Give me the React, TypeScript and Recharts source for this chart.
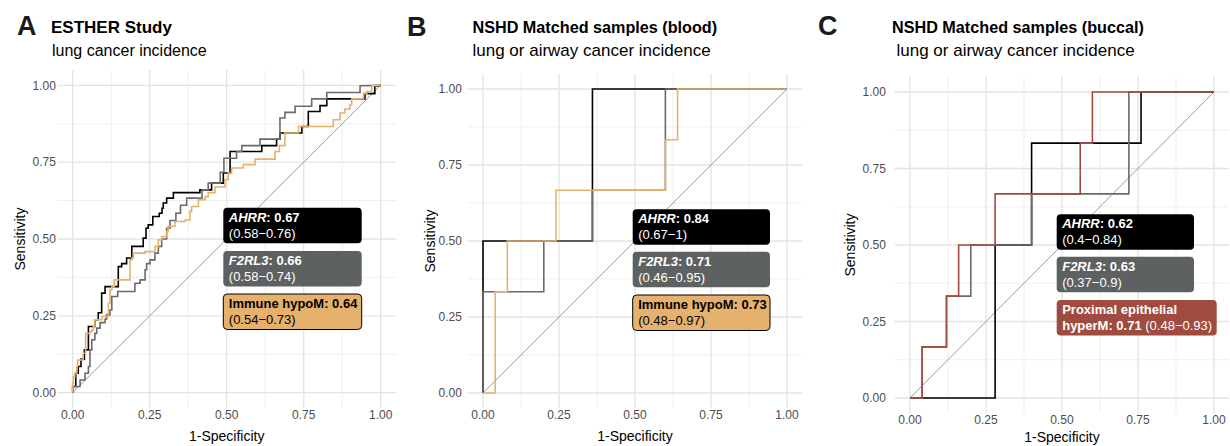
import React from 'react'
import { ComposedChart, Line, XAxis, YAxis, CartesianGrid, ReferenceLine } from 'recharts'

type Pt = [number, number]

const majorTicks = [0, 0.25, 0.5, 0.75, 1]
const minorTicks = [0.125, 0.375, 0.625, 0.875]

// ROC corner points [1-specificity, sensitivity]
const estherAhrr: Pt[] = [
  [0, 0], [0, 0.02], [0.01, 0.02], [0.01, 0.063], [0.018, 0.063], [0.018, 0.085], [0.027, 0.085], [0.027, 0.109],
  [0.038, 0.109], [0.038, 0.139], [0.051, 0.139], [0.051, 0.215], [0.072, 0.215], [0.072, 0.237], [0.083, 0.237],
  [0.083, 0.26], [0.094, 0.26], [0.094, 0.324], [0.105, 0.324], [0.105, 0.345], [0.148, 0.345], [0.148, 0.41],
  [0.159, 0.41], [0.159, 0.42], [0.175, 0.42], [0.175, 0.438], [0.192, 0.438], [0.192, 0.476], [0.229, 0.476],
  [0.229, 0.503], [0.238, 0.503], [0.238, 0.535], [0.245, 0.535], [0.245, 0.546], [0.26, 0.546], [0.26, 0.573],
  [0.281, 0.573], [0.281, 0.584], [0.29, 0.584], [0.29, 0.6], [0.294, 0.6], [0.294, 0.617], [0.305, 0.617],
  [0.305, 0.633], [0.327, 0.633], [0.327, 0.651], [0.413, 0.651], [0.413, 0.66], [0.451, 0.66], [0.451, 0.682],
  [0.489, 0.682], [0.489, 0.715], [0.511, 0.715], [0.511, 0.785], [0.614, 0.785], [0.614, 0.804], [0.662, 0.804],
  [0.662, 0.825], [0.673, 0.825], [0.673, 0.845], [0.744, 0.845], [0.744, 0.866], [0.765, 0.866], [0.765, 0.915],
  [0.803, 0.915], [0.803, 0.934], [0.825, 0.934], [0.825, 0.956], [0.949, 0.956], [0.949, 0.973], [0.981, 0.973],
  [0.981, 0.997], [1, 1],
]
const estherF2rl3: Pt[] = [
  [0, 0], [0, 0.02], [0.024, 0.02], [0.024, 0.041], [0.04, 0.041], [0.04, 0.063], [0.051, 0.063], [0.051, 0.085],
  [0.056, 0.085], [0.056, 0.139], [0.062, 0.139], [0.062, 0.172], [0.072, 0.172], [0.072, 0.193], [0.078, 0.193],
  [0.078, 0.21], [0.089, 0.21], [0.089, 0.228], [0.105, 0.228], [0.105, 0.239], [0.11, 0.239], [0.11, 0.253],
  [0.121, 0.253], [0.121, 0.269], [0.127, 0.269], [0.127, 0.313], [0.146, 0.313], [0.146, 0.329], [0.202, 0.329],
  [0.202, 0.356], [0.219, 0.356], [0.219, 0.367], [0.235, 0.367], [0.235, 0.4], [0.24, 0.4], [0.24, 0.42],
  [0.251, 0.42], [0.251, 0.432], [0.267, 0.432], [0.267, 0.454], [0.278, 0.454], [0.278, 0.476], [0.289, 0.476],
  [0.289, 0.5], [0.305, 0.5], [0.305, 0.535], [0.316, 0.535], [0.316, 0.56], [0.335, 0.56], [0.335, 0.584],
  [0.35, 0.584], [0.35, 0.61], [0.37, 0.61], [0.37, 0.633], [0.42, 0.633], [0.42, 0.66], [0.44, 0.66],
  [0.44, 0.682], [0.479, 0.682], [0.479, 0.717], [0.491, 0.717], [0.491, 0.763], [0.532, 0.763], [0.532, 0.785],
  [0.549, 0.785], [0.549, 0.804], [0.608, 0.804], [0.608, 0.825], [0.673, 0.825], [0.673, 0.894], [0.689, 0.894],
  [0.689, 0.912], [0.722, 0.912], [0.722, 0.932], [0.776, 0.932], [0.776, 0.956], [0.825, 0.956], [0.825, 0.977],
  [0.933, 0.977], [0.933, 0.999], [1, 1],
]
const estherImmune: Pt[] = [
  [0, 0], [0, 0.031], [0.002, 0.031], [0.002, 0.052], [0.007, 0.052], [0.007, 0.063], [0.013, 0.063], [0.013, 0.085],
  [0.016, 0.085], [0.016, 0.106], [0.034, 0.106], [0.034, 0.128], [0.042, 0.128], [0.042, 0.193], [0.056, 0.193],
  [0.056, 0.199], [0.062, 0.199], [0.062, 0.204], [0.067, 0.204], [0.067, 0.215], [0.072, 0.215], [0.072, 0.237],
  [0.096, 0.237], [0.096, 0.248], [0.116, 0.248], [0.116, 0.291], [0.121, 0.291], [0.121, 0.335], [0.127, 0.335],
  [0.127, 0.345], [0.135, 0.345], [0.135, 0.367], [0.186, 0.367], [0.186, 0.432], [0.192, 0.432], [0.192, 0.438],
  [0.197, 0.438], [0.197, 0.454], [0.235, 0.454], [0.235, 0.459], [0.267, 0.459], [0.267, 0.476], [0.278, 0.476],
  [0.278, 0.497], [0.289, 0.497], [0.289, 0.508], [0.305, 0.508], [0.305, 0.524], [0.31, 0.524], [0.31, 0.541],
  [0.332, 0.541], [0.332, 0.557], [0.365, 0.557], [0.365, 0.562], [0.381, 0.562], [0.381, 0.59], [0.386, 0.59],
  [0.386, 0.606], [0.408, 0.606], [0.408, 0.628], [0.43, 0.628], [0.43, 0.638], [0.44, 0.638], [0.44, 0.651],
  [0.462, 0.651], [0.462, 0.669], [0.494, 0.669], [0.494, 0.693], [0.505, 0.693], [0.505, 0.715], [0.516, 0.715],
  [0.516, 0.731], [0.554, 0.731], [0.554, 0.742], [0.592, 0.742], [0.592, 0.76], [0.657, 0.76], [0.657, 0.785],
  [0.671, 0.785], [0.671, 0.804], [0.689, 0.804], [0.689, 0.845], [0.733, 0.845], [0.733, 0.866], [0.846, 0.866],
  [0.846, 0.888], [0.868, 0.888], [0.868, 0.91], [0.884, 0.91], [0.884, 0.923], [0.9, 0.923], [0.9, 0.937],
  [0.906, 0.937], [0.906, 0.956], [0.944, 0.956], [0.944, 0.973], [0.955, 0.973], [0.955, 0.98], [0.971, 0.98],
  [0.971, 0.999], [1, 1],
]

const bloodAhrr: Pt[] = [[0, 0], [0, 0.5], [0.36, 0.5], [0.36, 1], [1, 1]]
const bloodF2rl3: Pt[] = [
  [0, 0], [0, 0.333], [0.2, 0.333], [0.2, 0.5], [0.36, 0.5], [0.36, 0.667], [0.6, 0.667], [0.6, 1], [1, 1],
]
const bloodImmune: Pt[] = [
  [0, 0], [0.04, 0], [0.04, 0.333], [0.08, 0.333], [0.08, 0.5], [0.24, 0.5], [0.24, 0.667], [0.6, 0.667],
  [0.6, 0.833], [0.64, 0.833], [0.64, 1], [1, 1],
]

const buccalAhrr: Pt[] = [
  [0, 0], [0.28, 0], [0.28, 0.5], [0.4, 0.5], [0.4, 0.833], [0.76, 0.833], [0.76, 1], [1, 1],
]
const buccalF2rl3: Pt[] = [
  [0, 0], [0.04, 0], [0.04, 0.167], [0.12, 0.167], [0.12, 0.333], [0.2, 0.333], [0.2, 0.5], [0.4, 0.5],
  [0.4, 0.667], [0.72, 0.667], [0.72, 1], [1, 1],
]
const buccalProximal: Pt[] = [
  [0, 0], [0.04, 0], [0.04, 0.167], [0.12, 0.167], [0.12, 0.333], [0.16, 0.333], [0.16, 0.5], [0.28, 0.5],
  [0.28, 0.667], [0.56, 0.667], [0.56, 0.833], [0.6, 0.833], [0.6, 1], [1, 1],
]

const BLACK = '#000000'
const GREY = '#6a6a6a'
const ORANGE = '#e6b16d'
const RED = '#9f4b3f'
const BOX_GREY = '#5e6161'

const toRows = (pts: Pt[]) => pts.map(([x, y]) => ({ x, y }))

const panels = [
  {
    left: 0, width: 396.1, yw: 57.3, top: 70, xh: 38, ytm: 1.5, xtm: 2,
    series: [
      { name: 'AHRR', pts: estherAhrr, color: BLACK },
      { name: 'F2RL3', pts: estherF2rl3, color: GREY },
      { name: 'Immune hypoM', pts: estherImmune, color: ORANGE },
    ],
  },
  {
    left: 410, width: 392.2, yw: 57.8, top: 73.8, xh: 37.8, ytm: 6, xtm: 2,
    series: [
      { name: 'AHRR', pts: bloodAhrr, color: BLACK },
      { name: 'F2RL3', pts: bloodF2rl3, color: GREY },
      { name: 'Immune hypoM', pts: bloodImmune, color: ORANGE },
    ],
  },
  {
    left: 830, width: 399.2, yw: 64.8, top: 76.7, xh: 32.7, ytm: 9, xtm: 2,
    series: [
      { name: 'AHRR', pts: buccalAhrr, color: BLACK },
      { name: 'F2RL3', pts: buccalF2rl3, color: GREY },
      { name: 'Proximal epithelial hyperM', pts: buccalProximal, color: RED },
    ],
  },
]

const tickStyle = { fontSize: 12, fill: '#4d4d4d', fontFamily: 'Liberation Sans, Arial, sans-serif' }

function RocPanel({ p }: { p: (typeof panels)[number] }) {
  return (
    <div style={{ position: 'absolute', left: p.left, top: 0 }}>
      <ComposedChart width={p.width} height={446} margin={{ top: p.top, right: 0, bottom: 0, left: 0 }}>
        <CartesianGrid stroke="#ebebeb" strokeWidth={0.8} horizontalValues={minorTicks} verticalValues={minorTicks} />
        <CartesianGrid stroke="#e3e3e3" strokeWidth={1.3} horizontalValues={majorTicks} verticalValues={majorTicks} />
        <XAxis
          type="number" dataKey="x" domain={[-0.05, 1.05]} allowDataOverflow ticks={majorTicks}
          tickFormatter={(v: number) => v.toFixed(2)} axisLine={false} tickLine={false} tickSize={0}
          tickMargin={p.xtm} height={p.xh} tick={tickStyle} interval={0}
        />
        <YAxis
          type="number" dataKey="y" domain={[-0.05, 1.05]} allowDataOverflow ticks={majorTicks}
          tickFormatter={(v: number) => v.toFixed(2)} axisLine={false} tickLine={false} tickSize={0}
          tickMargin={p.ytm} width={p.yw} tick={tickStyle} interval={0}
        />
        <ReferenceLine segment={[{ x: 0, y: 0 }, { x: 1, y: 1 }]} stroke="#9a9a9a" strokeWidth={1} />
        {p.series.map((s) => (
          <Line
            key={s.name} data={toRows(s.pts)} dataKey="y" type="linear" stroke={s.color} strokeWidth={1.6}
            dot={false} activeDot={false} isAnimationActive={false}
          />
        ))}
      </ComposedChart>
    </div>
  )
}

type Seg = { t: string; b?: boolean; i?: boolean }
type Box = { x: number; y: number; w: number; fill: string; color: string; border?: boolean; lines: Seg[][] }

const boxes: Box[] = [
  { x: 223.3, y: 207.7, w: 138.4, fill: BLACK, color: '#ffffff', lines: [[{ t: 'AHRR', b: true, i: true }, { t: ': 0.67', b: true }], [{ t: '(0.58\u22120.76)' }]] },
  { x: 223.3, y: 251, w: 138.4, fill: BOX_GREY, color: '#ffffff', lines: [[{ t: 'F2RL3', b: true, i: true }, { t: ': 0.66', b: true }], [{ t: '(0.58\u22120.74)' }]] },
  { x: 223.3, y: 294, w: 138.4, fill: ORANGE, color: '#000000', border: true, lines: [[{ t: 'Immune hypoM: 0.64', b: true }], [{ t: '(0.54\u22120.73)' }]] },
  { x: 632.7, y: 209.3, w: 137.3, fill: BLACK, color: '#ffffff', lines: [[{ t: 'AHRR', b: true, i: true }, { t: ': 0.84', b: true }], [{ t: '(0.67\u22121)' }]] },
  { x: 632.7, y: 251.7, w: 137.3, fill: BOX_GREY, color: '#ffffff', lines: [[{ t: 'F2RL3', b: true, i: true }, { t: ': 0.71', b: true }], [{ t: '(0.46\u22120.95)' }]] },
  { x: 632.7, y: 295, w: 137.3, fill: ORANGE, color: '#000000', border: true, lines: [[{ t: 'Immune hypoM: 0.73', b: true }], [{ t: '(0.48\u22120.97)' }]] },
  { x: 1056.7, y: 214.3, w: 137.3, fill: BLACK, color: '#ffffff', lines: [[{ t: 'AHRR', b: true, i: true }, { t: ': 0.62', b: true }], [{ t: '(0.4\u22120.84)' }]] },
  { x: 1056.7, y: 256.7, w: 137.3, fill: BOX_GREY, color: '#ffffff', lines: [[{ t: 'F2RL3', b: true, i: true }, { t: ': 0.63', b: true }], [{ t: '(0.37\u22120.9)' }]] },
  { x: 1056.7, y: 300, w: 160, fill: RED, color: '#ffffff', lines: [[{ t: 'Proximal epithelial', b: true }], [{ t: 'hyperM: 0.71', b: true }, { t: ' (0.48\u22120.93)' }]] },
]

const headers = [
  { letter: 'A', lx: 17, ly: 35, title: 'ESTHER Study', tx: 51, tSize: 17, sub: 'lung cancer incidence', sx: 52, sSize: 16 },
  { letter: 'B', lx: 407, ly: 36, title: 'NSHD Matched samples (blood)', tx: 472.5, tSize: 16.2, sub: 'lung or airway cancer incidence', sx: 472.5, sSize: 17 },
  { letter: 'C', lx: 818, ly: 35, title: 'NSHD Matched samples (buccal)', tx: 892, tSize: 16.2, sub: 'lung or airway cancer incidence', sx: 896.5, sSize: 17 },
]

const axisTitles = [
  { xc: 226.7, xb: 441, yx: 20, yc: 239 },
  { xc: 635, xb: 441, yx: 430, yc: 241 },
  { xc: 1062, xb: 442, yx: 850, yc: 245 },
]

export default function App() {
  const font = 'Liberation Sans, Arial, Helvetica, sans-serif'
  return (
    <div style={{ position: 'absolute', left: 0, top: 0, width: 1230, height: 446, background: '#fff', overflow: 'hidden' }}>
      {panels.map((p, i) => (
        <RocPanel key={i} p={p} />
      ))}
      <svg width={1230} height={446} style={{ position: 'absolute', left: 0, top: 0, pointerEvents: 'none' }} fontFamily={font}>
        {headers.map((h) => (
          <g key={h.letter}>
            <text x={h.lx} y={h.ly} fontSize={27} fontWeight="bold" fill="#1a1a1a">{h.letter}</text>
            <text x={h.tx} y={33} fontSize={h.tSize} fontWeight="bold" fill="#000">{h.title}</text>
            <text x={h.sx} y={55.5} fontSize={h.sSize} fill="#000">{h.sub}</text>
          </g>
        ))}
        {axisTitles.map((a, i) => (
          <g key={i}>
            <text x={a.xc} y={a.xb} fontSize={14} textAnchor="middle" fill="#000">1-Specificity</text>
            <text x={a.yx} y={a.yc} fontSize={14} textAnchor="middle" fill="#000" transform={`rotate(-90 ${a.yx} ${a.yc})`} dominantBaseline="central">Sensitivity</text>
          </g>
        ))}
        {boxes.map((b, i) => (
          <g key={i}>
            <rect x={b.x} y={b.y} width={b.w} height={35.5} rx={4} ry={4} fill={b.fill} stroke={b.border ? '#000' : 'none'} strokeWidth={1} />
            {b.lines.map((line, li) => (
              <text key={li} x={b.x + 5.5} y={b.y + 14 + li * 16} fontSize={13} fill={b.color}>
                {line.map((s, si) => (
                  <tspan key={si} fontWeight={s.b ? 'bold' : 'normal'} fontStyle={s.i ? 'italic' : 'normal'}>{s.t}</tspan>
                ))}
              </text>
            ))}
          </g>
        ))}
      </svg>
    </div>
  )
}
